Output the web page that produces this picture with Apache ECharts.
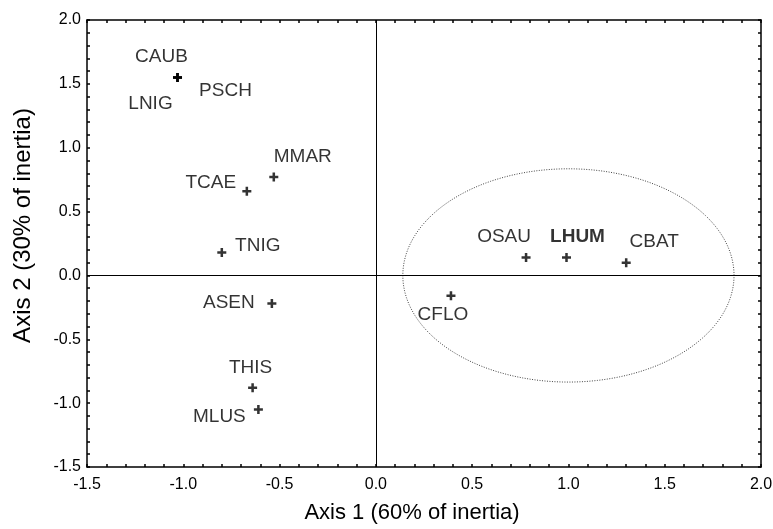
<!DOCTYPE html>
<html>
<head>
<meta charset="utf-8">
<script src="https://cdn.jsdelivr.net/npm/echarts@6/dist/echarts.min.js"></script>
<style>
  html, body { margin: 0; padding: 0; background: #fff; }
  #chart { width: 773px; height: 529px; }
</style>
</head>
<body>
<div id="chart"></div>
<script>
  // species codes and their coordinates on the two axes
  const names = ['CAUB', 'LNIG', 'PSCH', 'MMAR', 'TCAE', 'TNIG', 'ASEN', 'THIS', 'MLUS', 'CFLO', 'OSAU', 'LHUM', 'CBAT'];
  const axis1 = [-1.03, -1.03, -1.03, -0.53, -0.67, -0.80, -0.54, -0.64, -0.61, 0.39, 0.78, 0.99, 1.30];
  const axis2 = [1.55, 1.55, 1.55, 0.77, 0.66, 0.18, -0.22, -0.88, -1.05, -0.16, 0.14, 0.14, 0.10];

  // ellipse round the right-hand group: centre x, centre y, radius x, radius y
  const ellipse = [1.0, 0.0, 0.86, 0.835];

  const xTicks = [-1.5, 2.0];
  const yTicks = [-1.5, 2.0];

  // label placement (pixels from the marker), style only
  const labelOffset = {
    CAUB: [-16, -21], LNIG: [-27, 26], PSCH: [48, 13], MMAR: [29, -20],
    TCAE: [-36, -8], TNIG: [36, -7], ASEN: [-43, -1], THIS: [-2, -20],
    MLUS: [-39, 7], CFLO: [-8, 19], OSAU: [-22, -21], LHUM: [11, -21], CBAT: [28, -21]
  };
  const boldNames = ['LHUM'];

  const font = 'Liberation Sans, Arial, sans-serif';

  let points = names.map(function (n, i) {
    return {
      name: n,
      value: [axis1[i], axis2[i]],
      label: {
        offset: labelOffset[n],
        fontWeight: boldNames.indexOf(n) >= 0 ? 'bold' : 'normal'
      }
    };
  });

  function frameAxis(pos, range, showLabel, nameText) {
    return {
      type: 'value',
      position: pos,
      min: range[0],
      max: range[1],
      interval: 0.5,
      name: nameText || '',
      nameLocation: 'middle',
      nameTextStyle: { fontFamily: font, fontSize: 22, color: '#000' },
      axisLine: { show: true, onZero: false, lineStyle: { color: '#000', width: 1.5 } },
      axisTick: { show: true, inside: true, length: 3, lineStyle: { color: '#000', width: 1.5 } },
      minorTick: { show: true, splitNumber: 5, length: 3, lineStyle: { color: '#000', width: 1.5 } },
      axisLabel: {
        show: showLabel,
        fontFamily: font,
        fontSize: 16,
        color: '#000',
        margin: 6,
        formatter: function (v) { return v.toFixed(1); }
      },
      splitLine: { show: false }
    };
  }

  let xBottom = frameAxis('bottom', xTicks, true, 'Axis 1 (60% of inertia)');
  xBottom.nameGap = 35;
  xBottom.axisLabel.margin = 10;
  xBottom.nameTextStyle.padding = [0, 24, 0, 0];
  let yLeft = frameAxis('left', yTicks, true, 'Axis 2 (30% of inertia)');
  yLeft.nameGap = 52;
  yLeft.nameTextStyle.fontSize = 24;
  yLeft.nameTextStyle.padding = [0, 0, 0, 36];

  let chart = echarts.init(document.getElementById('chart'), null, { renderer: 'canvas' });
  chart.setOption({
    animation: false,
    backgroundColor: '#fff',
    grid: { left: 87, right: 12, top: 20, bottom: 62, containLabel: false, outerBoundsMode: 'none' },
    xAxis: [xBottom, frameAxis('top', xTicks, false)],
    yAxis: [yLeft, frameAxis('right', yTicks, false)],
    series: [
      {
        type: 'custom',
        xAxisIndex: 0,
        yAxisIndex: 0,
        silent: true,
        data: [ellipse],
        renderItem: function (params, api) {
          let cx = api.value(0), cy = api.value(1), rx = api.value(2), ry = api.value(3);
          let pts = [];
          for (let k = 0; k <= 180; k++) {
            let t = k / 180 * Math.PI * 2;
            pts.push(api.coord([cx + rx * Math.cos(t), cy + ry * Math.sin(t)]));
          }
          return {
            type: 'polyline',
            shape: { points: pts },
            style: { fill: null, stroke: '#444', lineWidth: 1, lineDash: [1, 1.5] }
          };
        }
      },
      {
        type: 'scatter',
        xAxisIndex: 0,
        yAxisIndex: 0,
        symbol: 'path://M3.6,0H6.4V3.6H10V6.4H6.4V10H3.6V6.4H0V3.6H3.6Z',
        symbolSize: 9,
        itemStyle: { color: '#000' },
        label: {
          show: true,
          position: 'inside',
          formatter: '{b}',
          fontFamily: font,
          fontSize: 19,
          color: '#000'
        },
        markLine: {
          silent: true,
          symbol: 'none',
          label: { show: false },
          lineStyle: { color: '#000', width: 1, type: 'solid' },
          data: [{ xAxis: 0 }, { yAxis: 0 }]
        },
        data: points
      }
    ]
  });
</script>
</body>
</html>
